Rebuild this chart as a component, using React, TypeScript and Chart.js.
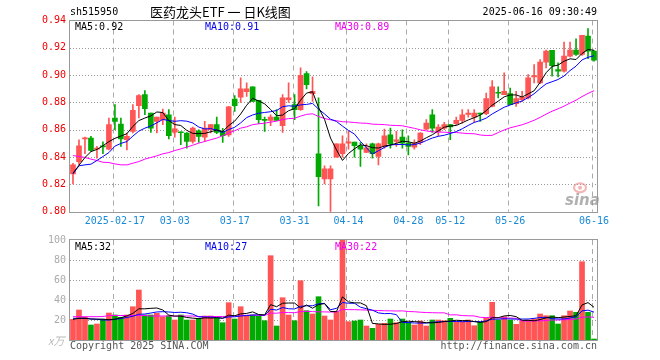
import React, { useEffect, useRef } from 'react';
import { Chart, registerables } from 'chart.js';

Chart.register(...registerables);

// ---------------- data ----------------
const dates = [
  '2025-02-06', '2025-02-07', '2025-02-10', '2025-02-11', '2025-02-12', '2025-02-13', '2025-02-14',
  '2025-02-17', '2025-02-18', '2025-02-19', '2025-02-20', '2025-02-21',
  '2025-02-24', '2025-02-25', '2025-02-26', '2025-02-27', '2025-02-28',
  '2025-03-03', '2025-03-04', '2025-03-05', '2025-03-06', '2025-03-07',
  '2025-03-10', '2025-03-11', '2025-03-12', '2025-03-13', '2025-03-14',
  '2025-03-17', '2025-03-18', '2025-03-19', '2025-03-20', '2025-03-21',
  '2025-03-24', '2025-03-25', '2025-03-26', '2025-03-27', '2025-03-28',
  '2025-03-31', '2025-04-01', '2025-04-02', '2025-04-03',
  '2025-04-07', '2025-04-08', '2025-04-09', '2025-04-10', '2025-04-11',
  '2025-04-14', '2025-04-15', '2025-04-16', '2025-04-17', '2025-04-18',
  '2025-04-21', '2025-04-22', '2025-04-23', '2025-04-24', '2025-04-25',
  '2025-04-28', '2025-04-29', '2025-04-30',
  '2025-05-06', '2025-05-07', '2025-05-08', '2025-05-09',
  '2025-05-12', '2025-05-13', '2025-05-14', '2025-05-15', '2025-05-16',
  '2025-05-19', '2025-05-20', '2025-05-21', '2025-05-22', '2025-05-23',
  '2025-05-26', '2025-05-27', '2025-05-28', '2025-05-29', '2025-05-30',
  '2025-06-03', '2025-06-04', '2025-06-05', '2025-06-06',
  '2025-06-09', '2025-06-10', '2025-06-11', '2025-06-12', '2025-06-13',
  '2025-06-16',
];

const openP = [
  0.8277, 0.8367, 0.8532, 0.8539, 0.8458, 0.8483, 0.8458, 0.8686, 0.8642, 0.8527,
  0.8588, 0.8776, 0.8857, 0.8722, 0.8661, 0.8674, 0.8710, 0.8583, 0.8585, 0.8576,
  0.8514, 0.8593, 0.8546, 0.8600, 0.8637, 0.8588, 0.8563, 0.8825, 0.8838, 0.8879,
  0.8914, 0.8816, 0.8674, 0.8669, 0.8693, 0.8630, 0.8820, 0.8784, 0.8747, 0.9012,
  0.8865, 0.8424, 0.8240, 0.8240, 0.8399, 0.8424, 0.8502, 0.8510, 0.8483, 0.8434,
  0.8497, 0.8404, 0.8478, 0.8563, 0.8514, 0.8546, 0.8502, 0.8473, 0.8507, 0.8605,
  0.8710, 0.8588, 0.8612, 0.8637, 0.8644, 0.8669, 0.8713, 0.8693, 0.8722, 0.8718,
  0.8771, 0.8874, 0.8857, 0.8865, 0.8791, 0.8820, 0.8833, 0.8987, 0.8943, 0.9095,
  0.9181, 0.9041, 0.9029, 0.9139, 0.9183, 0.9151, 0.9286, 0.9176,
];

const highP = [
  0.8355, 0.8527, 0.8546, 0.8551, 0.8478, 0.8512, 0.8686, 0.8784, 0.8686, 0.8576,
  0.8784, 0.8857, 0.8887, 0.8722, 0.8693, 0.8752, 0.8747, 0.8693, 0.8585, 0.8580,
  0.8620, 0.8600, 0.8661, 0.8637, 0.8693, 0.8610, 0.8771, 0.8850, 0.8980, 0.8943,
  0.8914, 0.8816, 0.8693, 0.8710, 0.8747, 0.8857, 0.8943, 0.8857, 0.9053, 0.9026,
  0.8987, 0.8833, 0.8336, 0.8336, 0.8497, 0.8556, 0.8588, 0.8510, 0.8507, 0.8497,
  0.8502, 0.8502, 0.8605, 0.8612, 0.8588, 0.8600, 0.8556, 0.8527, 0.8580, 0.8674,
  0.8747, 0.8637, 0.8654, 0.8637, 0.8693, 0.8747, 0.8747, 0.8747, 0.8722, 0.8869,
  0.8960, 0.8914, 0.9016, 0.8906, 0.8882, 0.8882, 0.9004, 0.9078, 0.9114, 0.9183,
  0.9181, 0.9090, 0.9242, 0.9242, 0.9266, 0.9291, 0.9340, 0.9180,
];

const lowP = [
  0.8203, 0.8343, 0.8424, 0.8441, 0.8392, 0.8424, 0.8453, 0.8600, 0.8478, 0.8453,
  0.8576, 0.8686, 0.8710, 0.8580, 0.8576, 0.8637, 0.8532, 0.8546, 0.8490, 0.8465,
  0.8502, 0.8507, 0.8514, 0.8576, 0.8571, 0.8507, 0.8551, 0.8735, 0.8801, 0.8845,
  0.8808, 0.8644, 0.8588, 0.8630, 0.8669, 0.8580, 0.8801, 0.8674, 0.8742, 0.8899,
  0.8808, 0.8042, 0.8203, 0.8000, 0.8399, 0.8399, 0.8458, 0.8399, 0.8331, 0.8434,
  0.8392, 0.8343, 0.8465, 0.8465, 0.8478, 0.8465, 0.8416, 0.8458, 0.8490, 0.8600,
  0.8580, 0.8556, 0.8600, 0.8527, 0.8637, 0.8649, 0.8693, 0.8654, 0.8661, 0.8710,
  0.8767, 0.8833, 0.8857, 0.8784, 0.8771, 0.8808, 0.8825, 0.8943, 0.8938, 0.9053,
  0.8992, 0.8987, 0.9021, 0.9134, 0.9144, 0.9144, 0.9120, 0.9102,
];

const closeP = [
  0.8343, 0.8483, 0.8541, 0.8448, 0.8465, 0.8475, 0.8637, 0.8661, 0.8532, 0.8551,
  0.8742, 0.8850, 0.8754, 0.8612, 0.8693, 0.8722, 0.8556, 0.8607, 0.8578, 0.8514,
  0.8612, 0.8551, 0.8612, 0.8637, 0.8580, 0.8556, 0.8767, 0.8776, 0.8899, 0.8899,
  0.8808, 0.8674, 0.8669, 0.8693, 0.8669, 0.8833, 0.8833, 0.8747, 0.8999, 0.8931,
  0.8882, 0.8257, 0.8313, 0.8313, 0.8497, 0.8497, 0.8512, 0.8483, 0.8458, 0.8468,
  0.8424, 0.8497, 0.8556, 0.8497, 0.8527, 0.8502, 0.8478, 0.8502, 0.8576, 0.8649,
  0.8612, 0.8620, 0.8637, 0.8620, 0.8669, 0.8710, 0.8722, 0.8722, 0.8715, 0.8828,
  0.8914, 0.8867, 0.8882, 0.8784, 0.8828, 0.8838, 0.8980, 0.8997, 0.9095, 0.9176,
  0.9070, 0.9029, 0.9139, 0.9183, 0.9151, 0.9291, 0.9176, 0.9109,
];

// volume, unit: 万
const volume = [
  20.7, 30, 22.7, 15, 16, 20.7, 27, 25, 22.7, 25,
  33.3, 50, 25, 25, 26.7, 23.3, 24.3, 20, 25, 20,
  20, 21.7, 24, 24, 21.7, 17.3, 37.3, 21, 33.3, 24,
  25, 24, 19.3, 84.3, 14, 42.3, 25, 19.3, 59.3, 29.3,
  26, 43.3, 24, 20, 28.3, 100, 18.3, 19, 20, 14,
  11.7, 15.7, 16.7, 21, 17.3, 21, 17.7, 15, 19, 14,
  20, 20, 19.3, 21.7, 17.7, 18.3, 20, 14.3, 17.7, 21.7,
  37.7, 20, 23.3, 20, 15.7, 19.3, 20, 21, 26, 24.3,
  24.3, 16, 24.3, 29, 27.7, 78.3, 27.7, 1,
];

// moving-average values before a full window exists
const ma5Head = [0.8282, 0.834, 0.8397, 0.844];
const ma10Head = [0.8277, 0.8336, 0.8343, 0.8348, 0.8375, 0.8404, 0.8433, 0.848, 0.85];
const ma30Head = [
  0.8411, 0.8404, 0.8397, 0.8385, 0.8375, 0.8362, 0.836, 0.835, 0.8343, 0.8343,
  0.8355, 0.8367, 0.8385, 0.8397, 0.8409, 0.8424, 0.8433, 0.8448, 0.846, 0.8473,
  0.8487, 0.8502, 0.8514, 0.8527, 0.8539, 0.8556, 0.8576, 0.8593, 0.8612,
];
const vma5Head = [20.7, 21.7, 21.7, 21];
const vma10Head = [21.7, 21.7, 21.7, 21, 20.7, 20, 20, 20.7, 21.5];
const vma30Head = [
  23.3, 23.3, 23.3, 23.3, 23.3, 23.5, 24.5, 24.5, 24.5, 24.5,
  24.5, 24.5, 24.5, 24, 24, 24, 24, 24, 24, 24,
  24, 23.5, 23.5, 23.5, 23.5, 23.5, 23.8, 24, 24.3,
];

const xTickLabels = ['2025-02-17', '03-03', '03-17', '03-31', '04-14', '04-28', '05-12', '05-26', '06-16'];
const priceTicks = [0.8, 0.82, 0.84, 0.86, 0.88, 0.9, 0.92, 0.94];
const volTicks = [20, 40, 60, 80, 100];

// ---------------- helpers ----------------
const UP = '#ff5555';
const DOWN = '#00aa00';
const MONO = '"DejaVu Sans Mono", "Liberation Mono", monospace';

function movingAverage(src: number[], n: number, head: number[]) {
  return src.map((_, i) => {
    if (i < n - 1) return head[i];
    let s = 0;
    for (let k = i - n + 1; k <= i; k++) s += src[k];
    return s / n;
  });
}

const ma5 = movingAverage(closeP, 5, ma5Head);
const ma10 = movingAverage(closeP, 10, ma10Head);
const ma30 = movingAverage(closeP, 30, ma30Head);
const vma5 = movingAverage(volume, 5, vma5Head);
const vma10 = movingAverage(volume, 10, vma10Head);
const vma30 = movingAverage(volume, 30, vma30Head);

const candleColors = dates.map((_, i) => (closeP[i] >= openP[i] ? UP : DOWN));
const tickIndex = xTickLabels.map((l) => dates.findIndex((d) => d.endsWith(l)));

const sinaGrid = {
  id: 'sinaGrid',
  beforeDatasetsDraw(chart: any, _a: any, opts: any) {
    const { ctx, chartArea: a, scales } = chart;
    ctx.save();
    ctx.lineWidth = 1;
    ctx.strokeStyle = '#999';
    ctx.setLineDash([1, 2]);
    for (const v of opts.hLines || []) {
      const y = Math.round(scales.y.getPixelForValue(v)) + 0.5;
      if (y <= a.top + 1 || y >= a.bottom - 1) continue;
      ctx.beginPath();
      ctx.moveTo(a.left, y);
      ctx.lineTo(a.right, y);
      ctx.stroke();
    }
    ctx.strokeStyle = '#aaa';
    ctx.setLineDash([5, 4]);
    for (const idx of opts.vIndex || []) {
      const x = Math.floor(scales.x.getPixelForValue(idx) - 1.5) + 0.5;
      ctx.beginPath();
      ctx.moveTo(x, a.top);
      ctx.lineTo(x, a.bottom);
      ctx.stroke();
    }
    ctx.setLineDash([]);
    if (opts.logo) {
      const lx = a.right - 32;
      const ly = a.bottom - 7;
      ctx.strokeStyle = 'rgba(235,120,120,0.55)';
      ctx.lineWidth = 2;
      ctx.beginPath();
      ctx.ellipse(lx + 15, ly - 17, 6, 4.5, 0, 0, Math.PI * 2);
      ctx.stroke();
      ctx.fillStyle = 'rgba(235,120,120,0.55)';
      ctx.beginPath();
      ctx.arc(lx + 15, ly - 17, 2, 0, Math.PI * 2);
      ctx.fill();
      ctx.fillStyle = 'rgba(150,150,150,0.75)';
      ctx.font = 'italic bold 15px "DejaVu Sans", sans-serif';
      ctx.textBaseline = 'alphabetic';
      ctx.fillText('sina', lx, ly);
    }
    ctx.restore();
  },
  afterDatasetsDraw(chart: any) {
    const { ctx, chartArea: a } = chart;
    ctx.save();
    ctx.strokeStyle = '#999';
    ctx.lineWidth = 1;
    ctx.setLineDash([]);
    const l = Math.round(a.left) - 0.5;
    const t = Math.round(a.top) - 0.5;
    ctx.strokeRect(l, t, Math.round(a.right) - Math.round(a.left) + 1, Math.round(a.bottom) - Math.round(a.top) + 1);
    ctx.restore();
  },
};

const lineDs = (label: string, data: number[], color: string) => ({
  type: 'line' as const,
  label,
  data,
  borderColor: color,
  borderWidth: 1,
  pointRadius: 0,
  tension: 0,
  order: 0,
});

export default function App() {
  const priceRef = useRef<HTMLCanvasElement>(null);
  const volRef = useRef<HTMLCanvasElement>(null);

  useEffect(() => {
    const pc = new Chart(priceRef.current as HTMLCanvasElement, {
      type: 'bar',
      data: {
        labels: dates,
        datasets: [
          lineDs('MA5', ma5, '#000000'),
          lineDs('MA10', ma10, '#0000ff'),
          lineDs('MA30', ma30, '#ff00ff'),
          {
            type: 'bar',
            label: 'wick',
            data: dates.map((_, i) => [lowP[i], highP[i]]),
            backgroundColor: candleColors,
            barThickness: 1,
            grouped: false,
            order: 2,
          } as any,
          {
            type: 'bar',
            label: 'body',
            data: dates.map((_, i) => [openP[i], closeP[i]]),
            backgroundColor: candleColors,
            barThickness: 5,
            minBarLength: 1,
            grouped: false,
            order: 1,
          } as any,
        ],
      },
      options: {
        responsive: false,
        animation: false,
        devicePixelRatio: 1,
        layout: { padding: { top: 20.5, right: 63, left: 0, bottom: 0 } },
        plugins: {
          legend: { display: false },
          tooltip: { enabled: false },
          sinaGrid: { hLines: priceTicks, vIndex: tickIndex, logo: true },
        } as any,
        scales: {
          x: {
            type: 'category',
            offset: true,
            grid: { display: false, drawTicks: false, tickLength: 0 },
            border: { display: false },
            afterBuildTicks: (s: any) => {
              s.ticks = tickIndex.map((v) => ({ value: v }));
            },
            afterFit: (s: any) => {
              s.height = 18.3;
            },
            ticks: {
              autoSkip: false,
              maxRotation: 0,
              minRotation: 0,
              padding: 4,
              color: '#1a8ad8',
              font: { family: MONO, size: 10 },
              callback: (v: any) => xTickLabels[tickIndex.indexOf(Number(v))] ?? '',
            },
          },
          y: {
            type: 'linear',
            min: 0.8,
            max: 0.94,
            grid: { display: false, drawTicks: false, tickLength: 0 },
            border: { display: false },
            afterBuildTicks: (s: any) => {
              s.ticks = priceTicks.map((v) => ({ value: v }));
            },
            afterFit: (s: any) => {
              s.width = 70;
            },
            ticks: {
              padding: 4,
              color: '#ee0000',
              font: { family: MONO, size: 10 },
              callback: (v: any) => Number(v).toFixed(2),
            },
          },
        },
      },
      plugins: [sinaGrid as any],
    });

    const vc = new Chart(volRef.current as HTMLCanvasElement, {
      type: 'bar',
      data: {
        labels: dates,
        datasets: [
          lineDs('MA5', vma5, '#000000'),
          lineDs('MA10', vma10, '#0000ff'),
          lineDs('MA30', vma30, '#ff00ff'),
          {
            type: 'bar',
            label: 'volume',
            data: volume,
            backgroundColor: candleColors,
            barThickness: 5,
            grouped: false,
            order: 1,
          } as any,
        ],
      },
      options: {
        responsive: false,
        animation: false,
        devicePixelRatio: 1,
        layout: { padding: { top: 10, right: 63, left: 0, bottom: 0 } },
        plugins: {
          legend: { display: false },
          tooltip: { enabled: false },
          sinaGrid: { hLines: volTicks, vIndex: tickIndex, logo: false },
        } as any,
        scales: {
          x: {
            type: 'category',
            offset: true,
            grid: { display: false, drawTicks: false, tickLength: 0 },
            border: { display: false },
            ticks: { display: false },
            afterFit: (s: any) => {
              s.height = 20;
            },
          },
          y: {
            type: 'linear',
            min: 0,
            max: 100,
            grid: { display: false, drawTicks: false, tickLength: 0 },
            border: { display: false },
            afterBuildTicks: (s: any) => {
              s.ticks = volTicks.map((v) => ({ value: v }));
            },
            afterFit: (s: any) => {
              s.width = 70;
            },
            ticks: {
              padding: 4,
              color: '#aaaaaa',
              font: { family: MONO, size: 10 },
              callback: (v: any) => String(v),
            },
          },
        },
      },
      plugins: [sinaGrid as any],
    });

    return () => {
      pc.destroy();
      vc.destroy();
    };
  }, []);

  const last = dates.length - 1;
  const mono = (extra: React.CSSProperties): React.CSSProperties => ({
    position: 'absolute',
    fontFamily: MONO,
    fontSize: 10,
    lineHeight: '12px',
    whiteSpace: 'nowrap',
    ...extra,
  });

  return (
    <div style={{ position: 'absolute', left: 0, top: 0, width: 660, height: 360, background: '#fff', overflow: 'hidden' }}>
      <canvas ref={priceRef} width={660} height={230} style={{ position: 'absolute', left: 0, top: 0 }} />
      <canvas ref={volRef} width={660} height={130} style={{ position: 'absolute', left: 0, top: 230 }} />

      <div style={mono({ left: 70, top: 6, color: '#000' })}>sh515950</div>
      <div
        style={{
          position: 'absolute',
          left: 150,
          top: 5,
          fontFamily: '"Noto Sans CJK SC", sans-serif',
          fontSize: 13,
          lineHeight: '14px',
          color: '#000',
          whiteSpace: 'pre',
        }}
      >
        {'医药龙头ETF 一 日K线图'}
      </div>
      <div style={mono({ right: 63, top: 6, color: '#000' })}>2025-06-16 09:30:49</div>

      <div style={mono({ left: 75, top: 21, color: '#000' })}>MA5:{ma5[last].toFixed(2)}</div>
      <div style={mono({ left: 205, top: 21, color: '#0000ee' })}>MA10:{ma10[last].toFixed(2)}</div>
      <div style={mono({ left: 335, top: 21, color: '#ee00ee' })}>MA30:{ma30[last].toFixed(2)}</div>

      <div style={mono({ left: 75, top: 241, color: '#000' })}>MA5:{Math.floor(vma5[last])}</div>
      <div style={mono({ left: 205, top: 241, color: '#0000ee' })}>MA10:{Math.floor(vma10[last])}</div>
      <div style={mono({ left: 335, top: 241, color: '#ee00ee' })}>MA30:{Math.floor(vma30[last])}</div>

      <div
        style={{
          position: 'absolute',
          left: 48,
          top: 334,
          fontFamily: '"Noto Sans CJK SC", sans-serif',
          fontSize: 11,
          lineHeight: '12px',
          color: '#bbb',
          fontStyle: 'italic',
        }}
      >
        x万
      </div>
      <div style={mono({ left: 70, top: 340, color: '#555' })}>Copyright 2025 SINA.COM</div>
      <div style={mono({ right: 63, top: 340, color: '#555' })}>http://finance.sina.com.cn</div>
    </div>
  );
}
